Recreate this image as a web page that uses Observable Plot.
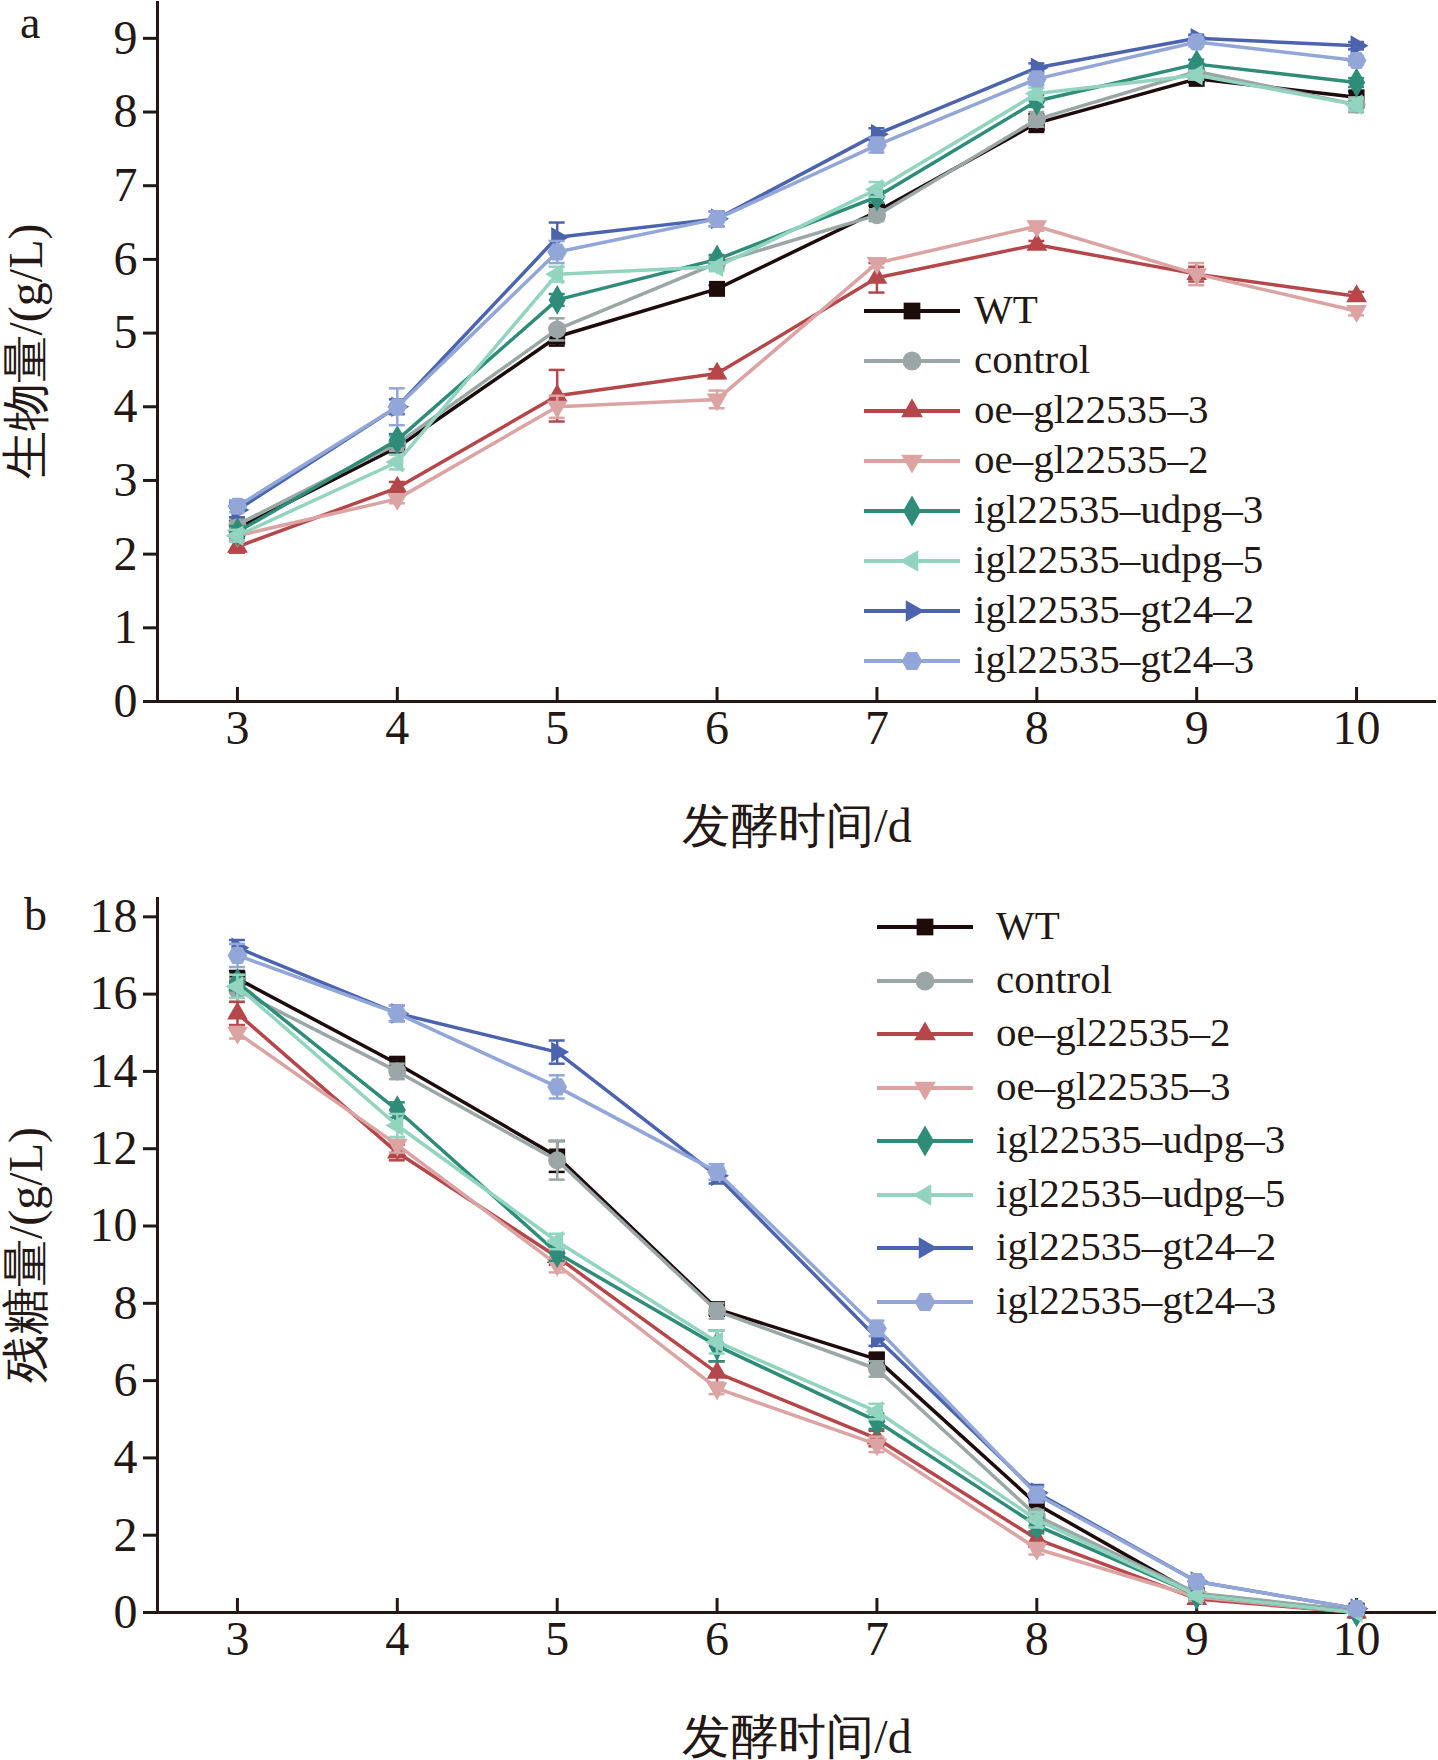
<!DOCTYPE html>
<html><head><meta charset="utf-8">
<script src="https://cdn.jsdelivr.net/npm/d3@7"></script>
<script src="https://cdn.jsdelivr.net/npm/@observablehq/plot@0.6"></script>
<style>
body{margin:0;background:#fff;font-family:"Liberation Serif",serif;}
#wrap{position:relative;width:1438px;height:1760px;}
.panel{position:absolute;left:0;width:1438px;height:880px;}
.lbl{position:absolute;font-size:46px;color:#231815;}
.leg{position:absolute;font-size:41px;color:#231815;}
</style></head><body>
<div id="wrap"><div id="pa" class="panel" style="top:0"></div><div id="pb" class="panel" style="top:880px"></div></div>
<script>
const days=[3,4,5,6,7,8,9,10];
const names=["WT","control","oe-gl22535-3","oe-gl22535-2","igl22535-udpg-3","igl22535-udpg-5","igl22535-gt24-2","igl22535-gt24-3"];
const namesB=["WT","control","oe-gl22535-2","oe-gl22535-3","igl22535-udpg-3","igl22535-udpg-5","igl22535-gt24-2","igl22535-gt24-3"];
const colors=["#1e0b0b","#9ba6a6","#b5474a","#dca3a3","#2f8c78","#92d4bf","#4b64ad","#92a6d8"];
const aWT=[2.35,3.45,4.95,5.6,6.65,7.85,8.45,8.2];
const aControl=[2.4,3.5,5.05,5.95,6.6,7.9,8.55,8.1];
const aOe3=[2.1,2.9,4.15,4.45,5.75,6.2,5.8,5.5];
const aOe2=[2.25,2.75,4.0,4.1,5.95,6.45,5.8,5.3];
const aUdpg3=[2.3,3.55,5.45,6.0,6.85,8.15,8.65,8.4];
const aUdpg5=[2.25,3.25,5.8,5.9,6.95,8.25,8.5,8.1];
const aGt2=[2.6,4.0,6.3,6.55,7.7,8.6,9.0,8.9];
const aGt3=[2.65,4.0,6.1,6.55,7.55,8.45,8.95,8.7];
const aErr=[[0.1,0.08,0.12,0.05,0.08,0.12,0.05,0.08],[0.1,0.1,0.15,0.08,0.08,0.1,0.08,0.1],[0.08,0.08,0.35,0.06,0.2,0.05,0.1,0.06],[0.08,0.06,0.15,0.12,0.06,0.06,0.15,0.06],[0.08,0.08,0.08,0.06,0.08,0.08,0.06,0.06],[0.08,0.1,0.1,0.06,0.1,0.08,0.06,0.08],[0.1,0.1,0.2,0.1,0.08,0.06,0.05,0.05],[0.08,0.25,0.15,0.1,0.1,0.08,0.06,0.06]];
const bWT=[16.4,14.2,11.8,7.85,6.55,2.8,0.45,0.05];
const bControl=[16.1,14.0,11.7,7.8,6.3,2.5,0.5,0.05];
const bOe2=[15.5,11.9,9.2,6.2,4.5,1.9,0.35,0.0];
const bOe3=[15.0,12.1,9.0,5.8,4.35,1.65,0.4,0.0];
const bUdpg3=[16.3,13.0,9.3,6.9,4.95,2.25,0.45,0.0];
const bUdpg5=[16.2,12.6,9.6,7.0,5.2,2.4,0.45,0.0];
const bGt2=[17.2,15.5,14.5,11.3,7.1,3.1,0.8,0.1];
const bGt3=[17.0,15.5,13.6,11.4,7.35,3.05,0.8,0.1];
const bErr=[[0.2,0.15,0.4,0.15,0.15,0.15,0.1,0.05],[0.3,0.2,0.5,0.2,0.2,0.15,0.1,0.05],[0.3,0.2,0.2,0.3,0.2,0.2,0.1,0.05],[0.15,0.2,0.2,0.15,0.2,0.15,0.1,0.05],[0.2,0.2,0.2,0.4,0.2,0.2,0.1,0.05],[0.3,0.3,0.2,0.3,0.2,0.2,0.1,0.05],[0.2,0.2,0.3,0.2,0.2,0.2,0.1,0.05],[0.3,0.2,0.3,0.2,0.2,0.2,0.1,0.05]];

function rot(deg){return {draw(ctx,size){const r=Math.sqrt(size)*0.75;const pts=[0,120,240].map(a=>{const t=(a+deg-90)*Math.PI/180;return [r*Math.cos(t),r*Math.sin(t)];});ctx.moveTo(...pts[0]);ctx.lineTo(...pts[1]);ctx.lineTo(...pts[2]);ctx.closePath();}};}
const hexagon={draw(ctx,size){const r=Math.sqrt(size/2.6);for(let i=0;i<6;i++){const t=i*Math.PI/3;i?ctx.lineTo(r*Math.cos(t),r*Math.sin(t)):ctx.moveTo(r*Math.cos(t),r*Math.sin(t));}ctx.closePath();}};
const symA=[d3.symbolSquare,d3.symbolCircle,rot(0),rot(180),d3.symbolDiamond,rot(270),rot(90),hexagon];

function build(series,errs,labels,ymax,yticks,mt,mb,ylab){
  const rows=[];
  series.forEach((s,i)=>s.forEach((v,j)=>rows.push({name:labels[i],i,x:days[j],y:v,e:errs[i][j]})));
  const marks=[];
  series.forEach((s,i)=>{
    const d=rows.filter(r=>r.i===i);
    marks.push(Plot.ruleX(d,{x:"x",y1:r=>r.y-r.e,y2:r=>r.y+r.e,stroke:colors[i],strokeWidth:2.5}));
    marks.push(Plot.ruleY(d,{x1:r=>r.x-0.05,x2:r=>r.x+0.05,y:r=>r.y+r.e,stroke:colors[i],strokeWidth:2.5}));
    marks.push(Plot.ruleY(d,{x1:r=>r.x-0.05,x2:r=>r.x+0.05,y:r=>r.y-r.e,stroke:colors[i],strokeWidth:2.5}));
    marks.push(Plot.line(d,{x:"x",y:"y",stroke:colors[i],strokeWidth:3.5}));
    marks.push(Plot.dot(d,{x:"x",y:"y",fill:colors[i],stroke:"none",r:9,symbol:()=>symA[i]}));
  });
  return Plot.plot({width:1438,height:880,marginLeft:157,marginRight:2,marginTop:mt,marginBottom:mb,
    style:{fontFamily:"Liberation Serif, serif",fontSize:"48px",color:"#231815",background:"transparent"},
    x:{domain:[2.5,10.5]},y:{domain:[0,ymax]},
    symbol:{type:"identity"},
    marks:[
      Plot.axisX(days,{tickSize:-14,tickPadding:22,strokeWidth:3,tickFormat:d3.format("d"),label:"发酵时间/d",labelAnchor:"center",labelArrow:"none",labelOffset:140,fontSize:48}),
      Plot.axisY(yticks,{tickSize:14,tickPadding:6,strokeWidth:3,tickFormat:d3.format("d"),label:ylab,labelAnchor:"center",labelArrow:"none",labelOffset:150,fontSize:48}),
      Plot.ruleY([0],{strokeWidth:3,stroke:"#231815"}),
      Plot.ruleX([2.5],{strokeWidth:3,stroke:"#231815"}),
      ...marks
    ]});
}
function legend(el,labels,left,top,step,lineLeft){
  labels.forEach((n,i)=>{
    const y=top+i*step;
    const svg=d3.create("svg").attr("width",110).attr("height",40).style("position","absolute").style("left",lineLeft+"px").style("top",(y-20)+"px");
    svg.append("line").attr("x1",0).attr("x2",96).attr("y1",20).attr("y2",20).attr("stroke",colors[i]).attr("stroke-width",4);
    svg.append("path").attr("transform","translate(48,20)").attr("d",d3.symbol(symA[i],280)()).attr("fill",colors[i]);
    el.appendChild(svg.node());
    const t=document.createElement("div");t.className="leg";t.textContent=n.replace(/-/g,"–");
    t.style.left=left+"px";t.style.top=(y-26)+"px";el.appendChild(t);
  });
}
const pa=document.getElementById("pa"),pb=document.getElementById("pb");
pa.appendChild(build([aWT,aControl,aOe3,aOe2,aUdpg3,aUdpg5,aGt2,aGt3],aErr,names,9.5,[0,1,2,3,4,5,6,7,8,9],1,179,"生物量/(g/L)"));
pb.appendChild(build([bWT,bControl,bOe2,bOe3,bUdpg3,bUdpg5,bGt2,bGt3],bErr,namesB,18.5,[0,2,4,6,8,10,12,14,16,18],17,148,"残糖量/(g/L)"));
legend(pa,names,974,311,50,864);
legend(pb,namesB,996,47,53.5,877);
const la=document.createElement("div");la.className="lbl";la.textContent="a";la.style.left="20px";la.style.top="-4px";pa.appendChild(la);
const lb=document.createElement("div");lb.className="lbl";lb.textContent="b";lb.style.left="24px";lb.style.top="8px";pb.appendChild(lb);
</script></body></html>
